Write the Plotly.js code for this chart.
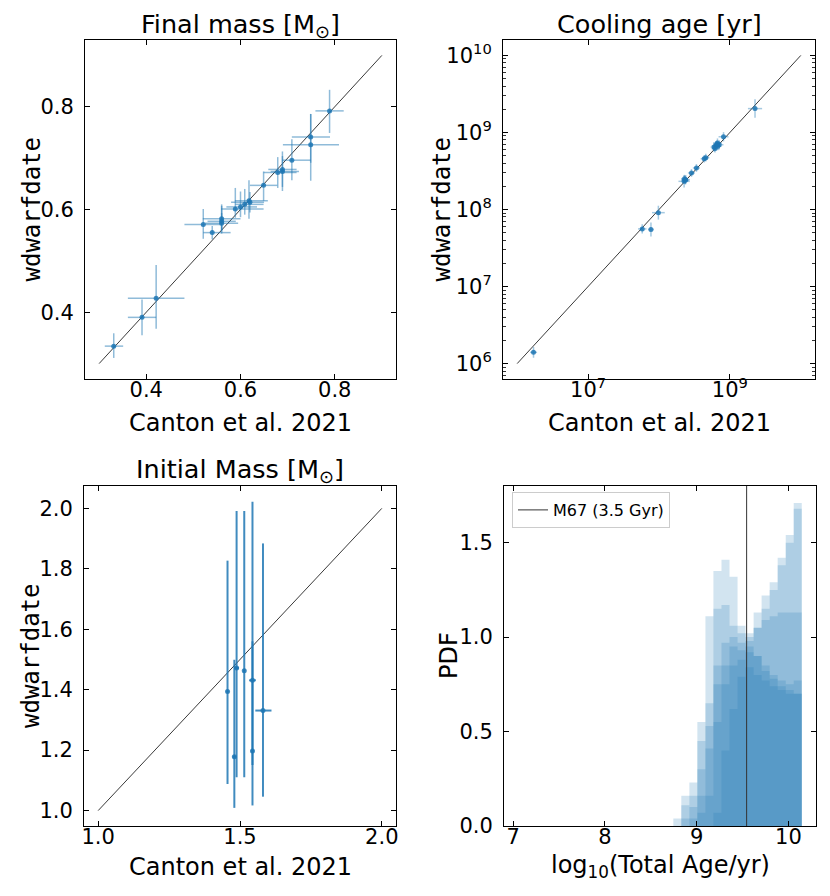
<!DOCTYPE html>
<html>
<head>
<meta charset="utf-8">
<script src="https://cdn.plot.ly/plotly-3.0.1.min.js"></script>
<style>
	body { margin: 0; background: #fff; }
	#chart { width: 830px; height: 896px; }
</style>
</head>
<body>
<div id="chart"></div>
<script>
/* Final mass [Msun]: Canton et al. 2021 vs wdwarfdate */
var finalMassCanton = [0.331, 0.391, 0.421, 0.521, 0.540, 0.560, 0.560, 0.560, 0.589, 0.600, 0.609, 0.618, 0.620, 0.649, 0.679, 0.689, 0.689, 0.709, 0.749, 0.749, 0.789];
var finalMassWd = [0.334, 0.390, 0.427, 0.571, 0.555, 0.582, 0.577, 0.573, 0.601, 0.605, 0.610, 0.617, 0.614, 0.647, 0.672, 0.678, 0.674, 0.696, 0.741, 0.726, 0.792];
var finalMassCantonErrLo = [0.019, 0.030, 0.060, 0.040, 0.019, 0.040, 0.030, 0.035, 0.030, 0.030, 0.020, 0.030, 0.040, 0.029, 0.030, 0.030, 0.025, 0.020, 0.040, 0.059, 0.030];
var finalMassCantonErrHi = [0.020, 0.030, 0.060, 0.037, 0.039, 0.040, 0.030, 0.035, 0.060, 0.035, 0.040, 0.040, 0.030, 0.029, 0.040, 0.030, 0.035, 0.040, 0.041, 0.060, 0.030];
var finalMassWdErrLo = [0.023, 0.035, 0.059, 0.028, 0.013, 0.022, 0.020, 0.020, 0.017, 0.020, 0.020, 0.035, 0.020, 0.030, 0.030, 0.042, 0.030, 0.039, 0.050, 0.070, 0.043];
var finalMassWdErrHi = [0.025, 0.035, 0.065, 0.030, 0.013, 0.028, 0.030, 0.020, 0.041, 0.030, 0.030, 0.040, 0.020, 0.027, 0.030, 0.035, 0.030, 0.041, 0.045, 0.060, 0.041];

/* Cooling age [yr] */
var coolingAgeCanton = [1.7e6, 5.8e7, 7.7e7, 9.8e7, 2.26e8, 2.38e8, 2.29e8, 2.87e8, 3.37e8, 4.34e8, 4.57e8, 6.0e8, 6.34e8, 6.68e8, 7.06e8, 6.17e8, 8.13e8, 2.26e9, 6.53e8, 6.76e8, 2.34e8];
var coolingAgeWd = [1.4e6, 5.6e7, 5.5e7, 9.1e7, 2.32e8, 2.44e8, 2.51e8, 2.98e8, 3.46e8, 4.56e8, 4.70e8, 6.46e8, 6.73e8, 7.28e8, 6.92e8, 6.17e8, 8.79e8, 2.04e9, 7.0e8, 6.61e8, 2.39e8];
var coolingAgeCantonErrDex = [0.05, 0.06, 0.04, 0.09, 0.08, 0.06, 0.05, 0.05, 0.05, 0.05, 0.05, 0.05, 0.06, 0.06, 0.06, 0.05, 0.07, 0.10, 0.05, 0.05, 0.05];
var coolingAgeWdErrDex = [0.07, 0.06, 0.09, 0.09, 0.08, 0.06, 0.05, 0.05, 0.05, 0.05, 0.05, 0.06, 0.06, 0.06, 0.06, 0.05, 0.06, 0.12, 0.05, 0.05, 0.05];

/* Initial mass [Msun] */
var initialMassCanton = [1.456, 1.480, 1.488, 1.515, 1.544, 1.544, 1.581];
var initialMassWd = [1.394, 1.178, 1.472, 1.463, 1.431, 1.197, 1.331];
var initialMassCantonErrLo = [0.004, 0.006, 0.008, 0.004, 0.012, 0.004, 0.027];
var initialMassCantonErrHi = [0.004, 0.006, 0.008, 0.004, 0.012, 0.004, 0.030];
var initialMassWdErrLo = [0.306, 0.169, 0.362, 0.353, 0.280, 0.180, 0.285];
var initialMassWdErrHi = [0.433, 0.321, 0.519, 0.528, 0.591, 0.363, 0.553];

/* Total age PDFs, log10(yr) */
var ageBinCenters = [8.789, 8.876, 8.964, 9.051, 9.139, 9.226, 9.314, 9.401, 9.489, 9.576, 9.664, 9.751, 9.839, 9.926, 10.014, 10.101];
var ageBinWidth = 0.0875;
var agePdfA = [0.04, 0.16, 0.23, 0.55, 1.11, 1.35, 1.41, 1.32, 1.06, 0.95, 0.90, 0.85, 0.80, 0.77, 0.75, 0.77];
var agePdfB = [0.00, 0.11, 0.16, 0.45, 0.65, 1.15, 1.17, 1.06, 1.02, 0.98, 0.90, 0.82, 0.78, 0.74, 0.72, 0.70];
var agePdfC = [0.00, 0.04, 0.10, 0.30, 0.53, 0.85, 0.97, 1.00, 0.97, 1.02, 1.13, 1.22, 1.29, 1.42, 1.54, 1.71];
var agePdfD = [0.00, 0.00, 0.04, 0.16, 0.41, 0.75, 0.85, 0.95, 0.93, 1.00, 1.05, 1.15, 1.25, 1.38, 1.50, 1.68];
var agePdfE = [0.00, 0.00, 0.00, 0.07, 0.16, 0.55, 0.75, 0.85, 0.88, 0.92, 1.05, 1.09, 1.11, 1.13, 1.13, 1.13];
var agePdfF = [0.00, 0.00, 0.00, 0.00, 0.00, 0.07, 0.40, 0.62, 0.79, 0.84, 0.80, 0.77, 0.74, 0.72, 0.70, 0.70];
var m67Age = 3.5e9;
var m67Label = 'M67 (3.5 Gyr)';

/* One-to-one lines */
var finalMassLine = [0.3, 0.9];
var coolingAgeLine = [1e6, 1e10];
var initialMassLine = [1.0, 2.0];

/* Tick labels */
var finalMassTicks = [0.4, 0.6, 0.8];
var coolingXTicks = [1e7, 1e9];
var coolingXText = ['10<sup>7</sup>', '10<sup>9</sup>'];
var coolingYTicks = [1e6, 1e7, 1e8, 1e9, 1e10];
var coolingYText = ['10<sup>6</sup>', '10<sup>7</sup>', '10<sup>8</sup>', '10<sup>9</sup>', '10<sup>10</sup>'];
var initialXTicks = [1.0, 1.5, 2.0];
var initialYTicks = [1.0, 1.2, 1.4, 1.6, 1.8, 2.0];
var ageXTicks = [7, 8, 9, 10];
var pdfTicks = [0.0, 0.5, 1.0, 1.5];

var C0 = '31,119,180';
var FONT = 'DejaVu Sans';

function dexLo(vals, dex) {
	return vals.map(function(v, i) { return v * (1 - Math.pow(10, -dex[i])); });
}
function dexHi(vals, dex) {
	return vals.map(function(v, i) { return v * (Math.pow(10, dex[i]) - 1); });
}

function errTrace(x, y, xl, xh, yl, yh, axis, barAlpha, thick) {
	return {
		type: 'scatter', mode: 'markers', x: x, y: y,
		xaxis: 'x' + axis, yaxis: 'y' + axis, showlegend: false,
		marker: { size: 5, color: 'rgba(' + C0 + ',0.85)' },
		error_x: { type: 'data', symmetric: false, array: xh, arrayminus: xl, width: 0, thickness: thick, color: 'rgba(' + C0 + ',' + barAlpha + ')' },
		error_y: { type: 'data', symmetric: false, array: yh, arrayminus: yl, width: 0, thickness: thick, color: 'rgba(' + C0 + ',' + barAlpha + ')' }
	};
}

function lineTrace(vals, axis) {
	return {
		type: 'scatter', mode: 'lines', x: vals, y: vals,
		xaxis: 'x' + axis, yaxis: 'y' + axis, showlegend: false,
		line: { color: '#222', width: 0.9 }
	};
}

// filled step outline, so neighbouring bins leave no seams
function histTrace(heights) {
	var xs = ageBinCenters.map(function(c) { return c - ageBinWidth / 2; });
	xs.push(ageBinCenters[ageBinCenters.length - 1] + ageBinWidth / 2);
	var ys = heights.slice();
	ys.push(heights[heights.length - 1]);
	return {
		type: 'scatter', mode: 'lines', x: xs, y: ys,
		xaxis: 'x4', yaxis: 'y4', showlegend: false,
		line: { shape: 'hv', width: 0, color: 'rgba(0,0,0,0)' },
		fill: 'tozeroy', fillcolor: 'rgba(' + C0 + ',0.2)'
	};
}

var data = [];
data.push(lineTrace(finalMassLine, ''));
data.push(errTrace(finalMassCanton, finalMassWd, finalMassCantonErrLo, finalMassCantonErrHi, finalMassWdErrLo, finalMassWdErrHi, '', 0.5, 1.5));

data.push(lineTrace(coolingAgeLine, '2'));
data.push(errTrace(coolingAgeCanton, coolingAgeWd,
	dexLo(coolingAgeCanton, coolingAgeCantonErrDex), dexHi(coolingAgeCanton, coolingAgeCantonErrDex),
	dexLo(coolingAgeWd, coolingAgeWdErrDex), dexHi(coolingAgeWd, coolingAgeWdErrDex), '2', 0.4, 1.5));

data.push(lineTrace(initialMassLine, '3'));
data.push(errTrace(initialMassCanton, initialMassWd, initialMassCantonErrLo, initialMassCantonErrHi, initialMassWdErrLo, initialMassWdErrHi, '3', 0.85, 2));

[agePdfA, agePdfB, agePdfC, agePdfD, agePdfE, agePdfF].forEach(function(h) {
	data.push(histTrace(h));
});
var m67Log = Math.log10(m67Age);
data.push({
	type: 'scatter', mode: 'lines', x: [m67Log, m67Log], y: [0, 1.8],
	xaxis: 'x4', yaxis: 'y4', name: m67Label, showlegend: true,
	line: { color: '#333', width: 1 }
});

function axis(extra) {
	var a = {
		showline: true, mirror: 'ticks', linecolor: '#000', linewidth: 1,
		ticks: 'inside', ticklen: 5, tickwidth: 1, tickcolor: '#000',
		showgrid: false, zeroline: false,
		tickfont: { family: FONT, size: 21, color: '#000' }
	};
	for (var k in extra) a[k] = extra[k];
	return a;
}

var W = 830, H = 896;
function xd(l, r) { return [l / W, r / W]; }
function yd(t, b) { return [1 - b / H, 1 - t / H]; }

function minorLog(lo, hi) {
	var v = [];
	for (var e = lo; e < hi; e++)
		for (var m = 2; m < 10; m++) v.push(m * Math.pow(10, e));
	return v;
}

var XSO = -8, YSO = 6;

var layout = {
	width: W, height: H,
	margin: { l: 0, r: 0, t: 0, b: 0 },
	paper_bgcolor: '#fff', plot_bgcolor: '#fff',
	font: { family: FONT, color: '#000' },
	xaxis: axis({ domain: xd(85, 396), anchor: 'y', range: [0.27, 0.93], tickmode: 'array', tickvals: finalMassTicks, tickformat: '.1f', ticklabelstandoff: XSO }),
	yaxis: axis({ domain: yd(40, 379), anchor: 'x', range: [0.27, 0.93], tickmode: 'array', tickvals: finalMassTicks, tickformat: '.1f', ticklabelstandoff: YSO }),
	xaxis2: axis({ domain: xd(503, 815), anchor: 'y2', type: 'log', range: [5.8, 10.2], tickmode: 'array', tickvals: coolingXTicks, ticktext: coolingXText, ticklabelstandoff: XSO }),
	yaxis2: axis({ domain: yd(40, 379), anchor: 'x2', type: 'log', range: [5.8, 10.2], tickmode: 'array', tickvals: coolingYTicks, ticktext: coolingYText, ticklabelstandoff: YSO,
		minor: { ticks: 'inside', ticklen: 3, tickwidth: 0.8, tickcolor: '#000', tickmode: 'array', tickvals: minorLog(5, 10), showgrid: false } }),
	xaxis3: axis({ domain: xd(84, 396), anchor: 'y3', range: [0.95, 2.05], tickmode: 'array', tickvals: initialXTicks, tickformat: '.1f', ticklabelstandoff: XSO }),
	yaxis3: axis({ domain: yd(486, 826), anchor: 'x3', range: [0.949, 2.074], tickmode: 'array', tickvals: initialYTicks, tickformat: '.1f', ticklabelstandoff: YSO }),
	xaxis4: axis({ domain: xd(504, 816), anchor: 'y4', range: [6.9, 10.3], tickmode: 'array', tickvals: ageXTicks, ticklabelstandoff: XSO }),
	yaxis4: axis({ domain: yd(486, 826), anchor: 'x4', range: [0, 1.8], tickmode: 'array', tickvals: pdfTicks, tickformat: '.1f', ticklabelstandoff: YSO }),
	legend: {
		x: 512 / W, y: 1 - 492 / H, xanchor: 'left', yanchor: 'top',
		bgcolor: 'rgba(255,255,255,0.8)', bordercolor: '#ccc', borderwidth: 1,
		font: { family: FONT, size: 16, color: '#000' }
	},
	annotations: []
};

function label(text, x, y, opts) {
	var a = {
		text: text, xref: 'paper', yref: 'paper', x: x / W, y: 1 - y / H,
		showarrow: false, xanchor: 'center', yanchor: 'middle',
		font: { family: FONT, size: 24, color: '#000' }
	};
	for (var k in opts) a[k] = opts[k];
	layout.annotations.push(a);
}

var titleFont = { family: FONT, size: 25.5, color: '#000' };
/* Titles */
label('Final mass [M<sub>⊙</sub>]', 240.5, 26, { font: titleFont });
label('Cooling age [yr]', 659, 24, { font: titleFont });
label('Initial Mass [M<sub>⊙</sub>]', 240, 470, { font: titleFont });
/* X labels */
label('Canton et al. 2021', 240.5, 423);
label('Canton et al. 2021', 659, 423);
label('Canton et al. 2021', 240, 867);
label('log<sub>10</sub>(Total Age/yr)', 660, 866);
/* Y labels */
var mono = { family: 'DejaVu Sans Mono', size: 24, color: '#000' };
label('wdwarfdate', 31, 209.5, { textangle: -90, font: mono });
label('wdwarfdate', 441, 209.5, { textangle: -90, font: mono });
label('wdwarfdate', 31, 656, { textangle: -90, font: mono });
label('PDF', 449, 656, { textangle: -90 });

Plotly.newPlot('chart', data, layout, { displayModeBar: false, staticPlot: true });
</script>
</body>
</html>
